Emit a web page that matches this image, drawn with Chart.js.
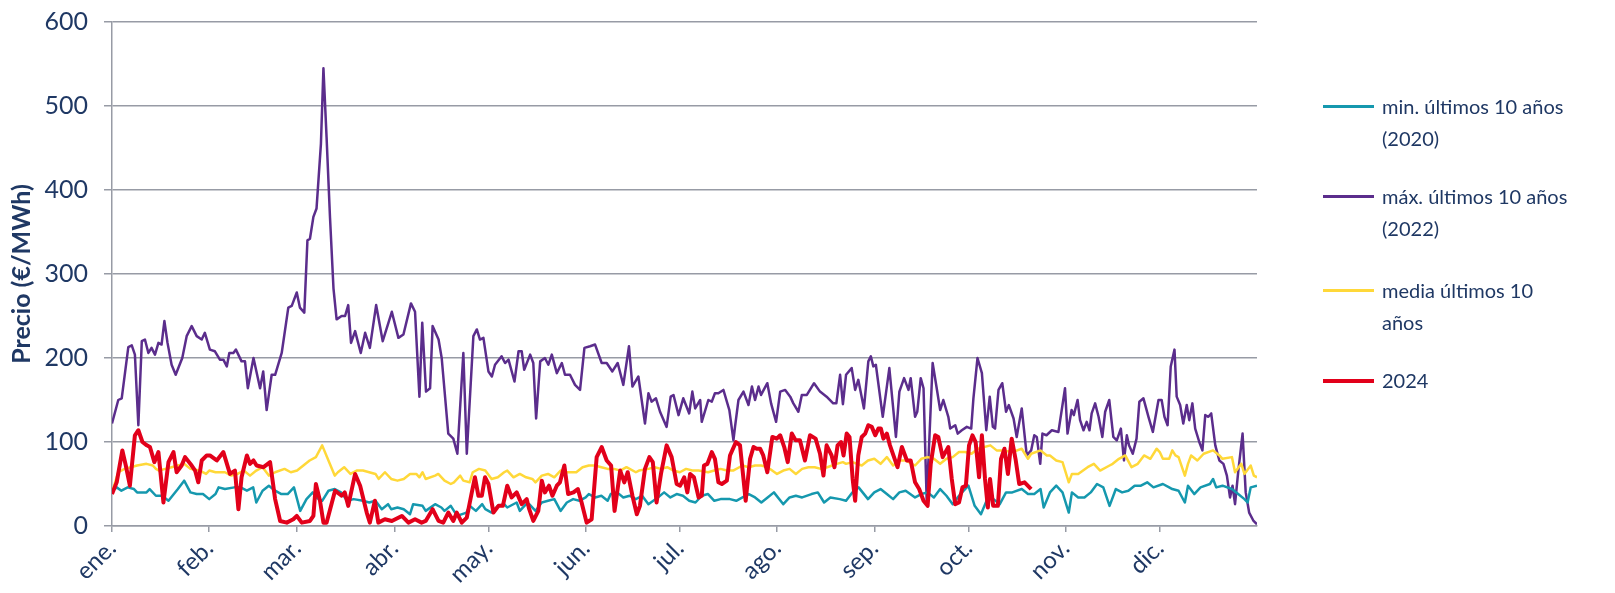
<!DOCTYPE html>
<html lang="es">
<head>
<meta charset="utf-8">
<script src="https://cdn.jsdelivr.net/npm/chart.js@4.4.1/dist/chart.umd.min.js"></script>
<style>
  html, body { margin: 0; padding: 0; background: #fff; }
  #wrap { position: relative; width: 1615px; height: 593px; }
  #chart { position: absolute; left: 0; top: 0; }
  .entry { position: absolute; left: 1323px; font-family: Lato, sans-serif; font-size: 20px; line-height: 32px; color: #1F3864; }
  .entry .swatch { position: absolute; left: 0; top: 15px; width: 51px; }
  .entry .label { margin-left: 59px; width: 200px; }
</style>
</head>
<body>
<div id="wrap">
  <canvas id="chart" width="1615" height="593"></canvas>
</div>
<script>
// eje x: día del año
const monthStarts = [0, 31, 59, 90, 120, 151, 181, 212, 243, 273, 304, 334];
const monthLabels = ['ene.', 'feb.', 'mar.', 'abr.', 'may.', 'jun.', 'jul.', 'ago.', 'sep.', 'oct.', 'nov.', 'dic.'];
const yTicks = [0, 100, 200, 300, 400, 500, 600];

const seriesNames = ['min. últimos 10 años (2020)', 'máx. últimos 10 años (2022)', 'media últimos 10 años', '2024'];

// [día, €/MWh]
const minSeries = [
  [0,42],[1.5,46],[3,42],[5,46],[7,44],[8,40],[11,40],[12,44],[14,36],[16,36],[18,30],[21,44],[23,54],[25,40],[27,38],[29,38],[31,32],
  [33,38],[34,46],[36,44],[39,46],[41,46],[43,42],[45,46],[46,28],[48,42],[50,48],[52,42],[54,38],[56,38],[58,46],[60,18],[62,32],[64,40],
  [65,34],[67,30],[69,42],[71,44],[73,40],[75,30],[77,32],[80,30],[82,28],[84,30],[86,20],[88,26],[89,20],[91,22],[93,20],[95,14],[96,26],[99,24],
  [100,18],[103,26],[105,22],[106,18],[108,24],[110,12],[113,16],[114,24],[116,18],[118,26],[119,20],[121,16],[123,24],[125,26],[126,22],[129,28],[130,18],[132,26],
  [133,26],[135,18],[137,28],[139,30],[141,32],[143,18],[145,28],[147,32],[149,30],[151,34],[152,38],[154,34],[156,36],[158,30],[159,38],[161,40],[163,34],[165,36],
  [167,32],[169,36],[171,26],[174,34],[176,40],[178,34],[180,38],[182,36],[184,30],[186,28],[188,36],[190,38],[192,30],[194,32],[197,32],[199,30],
  [201,34],[203,38],[205,34],[207,28],[209,34],[211,40],[214,26],[216,34],[218,36],[220,34],[223,38],[225,40],[227,28],[229,34],[232,32],
  [234,30],[236,40],[238,46],[241,32],[243,40],[245,44],[247,38],[249,32],[251,40],[253,42],[256,34],[258,38],[260,40],[262,34],[264,44],[266,36],
  [268,26],[270,36],[273,48],[275,24],[277,14],[279,32],[281,32],[283,26],[285,40],[287,40],[290,44],[292,38],[294,38],[296,44],[297,22],[299,40],
  [301,48],[303,40],[305,16],[306,40],[308,34],[310,34],[312,40],[314,50],[316,46],[318,24],[320,44],[322,40],[324,42],[326,48],[328,48],[330,52],[332,46],
  [335,50],[337,46],[338,44],[340,42],[342,28],[343,48],[345,38],[347,46],[350,50],[351,56],[352,46],[354,48],[357,44],[359,38],[361,32],[362,28],[363,46],[365,48]
];

const maxSeries = [
  [0,122],[2,150],[3.1,152],[5.2,213],[6.3,215],[7.3,204],[8.4,120],[9.5,220],[10.5,222],[11.6,206],[12.6,212],[13.7,204],[14.8,218],[15.8,216],[16.7,244],[17.7,218],[19,192],[20.3,180],[22.4,200],[23.8,226],[25.4,238],[27,226],[28.6,222],[29.6,230],
  [31.2,210],[32.8,208],[34.4,198],[35.5,198],[36.6,190],[37.4,206],[38.7,206],[39.5,210],[41.3,196],[42.4,196],[43.3,164],[45.1,200],[47.2,164],[48.2,184],[49.3,138],[50.9,180],[52,180],[54.1,206],[56.2,260],[57.3,262],[58.9,278],[59.9,260],[61.3,254],[62.3,340],[63.1,342],[64.2,368],[65.2,378],
  [66.6,455],[67.4,545],[68.4,463],[69.5,367],[70.6,283],[71.6,246],[73.2,250],[74.3,250],[75.3,263],[76.2,218],[77.5,232],[79.3,206],[80.7,230],[82.2,212],[84.2,263],[86.3,220],[89.2,255],[91.3,224],[92.9,228],[95.3,265],[96.6,255],[98,154],[98.9,242],
  [100.1,160],[101.4,164],[102.2,238],[104.1,222],[105.1,200],[107.2,110],[108.8,104],[110.1,86],[112,206],[113.1,86],[115.2,226],[116.3,234],[117.3,222],[118.4,224],[120,184],[121.1,178],[122.1,192],[124.2,202],[125.3,194],[126.4,198],[128.3,172],[129.6,208],[130.6,208],[131.4,186],
  [133.3,204],[134.3,194],[135.2,128],[136.5,196],[138,200],[139.1,192],[140.2,204],[141.8,182],[143.4,194],[144.4,180],[146,180],[147.6,168],[149.2,162],[150.6,212],[152.4,214],[154,216],[156.1,194],[157.7,194],[159.5,184],[161.2,194],[163,168],[164.8,214],[165.9,166],
  [167.8,178],[169.9,122],[171,158],[172,148],[173.4,152],[174.7,136],[176.8,118],[178.1,154],[179,156],[180.6,132],[182.1,152],[184,134],[185,160],[185.9,140],[187.5,150],[188,124],[190.1,150],[191.2,148],[192.2,158],[193.3,158],[194.9,162],[196.8,138],[198.1,102],[198.6,118],
  [199.7,150],[201.3,160],[202.9,144],[204,166],[205,150],[206.1,166],[206.9,156],[208.9,170],[210.1,146],[211.7,124],[213,160],[214.6,162],[216.2,154],[217.2,146],[218.8,136],[219.9,156],[221.5,156],[223.8,170],[225.7,160],[227.8,154],[229.9,146],[230.9,146],[232.1,180],
  [233,145],[234,180],[235.8,188],[236.9,162],[237.9,174],[239.7,140],[241.1,196],[241.9,202],[242.7,190],[243.5,192],[245.7,130],[247.8,188],[249.9,106],[251,160],[252.5,176],[253.9,162],[254.6,176],[256,130],[256.7,136],[257.8,176],[258.7,164],[259.7,30],[261.6,194],[262.9,164],[264,138],[265,150],
  [266.6,130],[267.2,116],[268.8,120],[269.6,110],[270.9,114],[272.5,118],[273.9,116],[274.6,152],[275.9,200],[277.3,182],[278.7,114],[279.8,154],[280.8,118],[281.5,116],[282.6,162],[283.8,170],[285,136],[285.9,144],[287.4,128],[288.4,106],[290,140],[291.6,84],[293,90],[294,108],[294.8,106],[295.9,74],[296.6,110],[297.9,108],[299.6,114],
  [301.7,112],[303.8,164],[304.6,110],[305.9,138],[306.6,132],[307.8,150],[308.6,126],[309.7,114],[310.7,124],[311.6,114],[312.3,134],[313.4,146],[314.5,130],[315.7,106],[316.6,136],[317.9,150],[319.2,106],[320.3,102],[321.6,116],[322.6,78],[323.5,108],[324.2,96],[325.4,86],[326.6,104],[327.5,148],[328.8,152],[330.4,130],[331.8,112],
  [333.6,150],[334.6,150],[335.5,130],[336.5,120],[337.5,190],[338.7,210],[339.4,154],[340.5,144],[341.5,122],[342.6,144],[343.4,126],[344.4,146],[345.3,116],[346.6,100],[347.6,90],[348.5,132],[349.5,130],[350.4,134],[351.7,96],[353,78],[354.3,74],[355.4,60],[356.4,34],[357.2,48],[358,26],[359,64],[360.4,110],[361.4,40],[362.5,16],[363.9,6],[365,2]
];

const avgSeries = [
  [0,40],[2,64],[4,68],[6,70],[8,72],[11,74],[13,72],[14,68],[15,66],[17,68],[19,70],[21,72],[23,74],[25,68],[28,66],[30,62],
  [31,66],[33,64],[36,64],[38,60],[40,62],[42,66],[44,60],[46,66],[48,70],[50,60],[52,64],[55,68],[57,64],[59,66],[61,72],[63,78],[65,82],
  [67,96],[69,78],[71,60],[72,64],[74,70],[76,62],[78,66],[80,66],[82,64],[84,62],[85,56],[87,64],[89,56],[91,54],[93,56],[95,62],[97,62],[98,58],
  [99,64],[100,56],[103,60],[104,62],[106,54],[108,50],[109,52],[111,60],[112,54],[114,52],[115,64],[117,68],[119,66],[121,56],[123,58],[125,64],[126,66],[128,58],[130,62],[132,58],
  [134,56],[135,52],[137,60],[139,62],[141,58],[143,66],[145,64],[148,64],[150,70],[152,72],[154,72],[156,70],[158,68],[160,68],[162,66],[164,70],
  [167,64],[168,66],[171,68],[173,70],[175,68],[177,70],[179,66],[181,64],[183,68],[185,66],[187,66],[190,64],[192,66],[194,68],[196,66],[198,66],
  [201,72],[203,70],[205,72],[207,72],[209,70],[212,62],[214,66],[216,68],[218,62],[220,68],[222,70],[224,70],[226,68],[228,70],[231,74],[233,76],
  [234,74],[236,76],[239,72],[241,78],[243,80],[245,74],[247,82],[249,72],[251,78],[253,78],[256,72],[258,80],[260,82],[262,80],[264,74],[266,80],
  [268,82],[270,88],[272,88],[274,86],[276,92],[280,96],[282,90],[284,90],[287,88],[290,92],[292,80],[293,86],[296,90],[298,84],
  [299,84],[301,78],[303,76],[305,52],[306,62],[308,62],[311,70],[313,74],[315,66],[318,72],[319,74],[321,80],[323,84],[325,70],[327,74],[329,84],[331,80],[333,92],
  [334,88],[335,80],[337,80],[338,90],[339,84],[340,82],[342,60],[343,74],[344,84],[346,78],[348,86],[351,90],[353,84],[354,80],[357,82],[358,64],[360,74],[361,62],[363,72],[364,60],[365,58]
];

const y2024Series = [
  [0,38],[1.5,52],[3.3,90],[4.4,72],[5.7,48],[7.3,108],[8.4,114],[9.7,100],[11.1,96],[12.1,94],[13.5,76],[14.8,88],[16.4,28],[18,76],[19.6,88],[20.6,64],[22.2,72],[23.3,82],[25.4,72],[26.5,66],[27.5,52],[28.6,78],[30.2,84],
  [31.2,84],[33.4,78],[35.5,88],[37.6,62],[39.2,66],[40.3,20],[41.3,58],[43,84],[44,74],[45.1,78],[46.1,72],[48.3,70],[50.4,76],[52,32],[53.6,6],[55.7,4],[57.8,8],[58.9,12],[60.5,4],[63.1,6],[64.2,12],[65,50],[66.3,30],
  [67.4,4],[68.4,4],[71.1,42],[73.2,36],[74.2,40],[75.3,24],[77.5,62],[79.1,48],[81.2,16],[82.2,4],[83.8,30],[84.9,4],[87,8],[89.2,6],[92.4,12],[94.5,4],[96.6,8],[98.7,4],
  [100,6],[102.2,20],[104.1,6],[105.6,4],[107.2,16],[108.8,6],[109.9,16],[111.5,4],[113.1,10],[114.7,40],[115.7,58],[116.8,36],[117.9,36],[118.9,58],[120,50],[121.6,16],[123.2,24],[124.6,24],[126,48],[127.4,34],[129,40],[130.6,26],[132.2,32],
  [133,20],[134.3,6],[135.9,18],[137,54],[138,40],[139.3,48],[140.4,36],[141.8,48],[142.8,52],[144.2,72],[145.4,38],[147.1,40],[148.5,44],[149.7,28],[151.3,4],[152.9,8],[154.5,82],[156.1,94],[157.7,78],[159.1,72],[160.2,18],[162,66],[163.3,52],[164.4,64],[165.9,36],
  [167.3,14],[168.3,24],[169.9,68],[171.3,82],[172.4,76],[173.6,28],[175,62],[176.8,96],[178.4,82],[180,50],[181.1,48],[182.4,58],[183.4,40],[184.3,62],[185.5,58],[187,34],[188,36],[188.7,72],[189.8,74],[191.2,88],[192.2,80],[193.3,52],[194.4,50],[196,54],[197,84],[198.9,100],
  [200.2,96],[201.3,56],[202,30],[203.4,80],[204.5,94],[205.5,92],[206.6,92],[207.6,84],[208.9,64],[210.5,106],[211.9,104],[213,108],[214.3,94],[215.4,76],[216.7,110],[217.9,102],[219.3,102],[220.9,78],[222.5,108],[224.3,104],[225.7,86],[226.8,60],[227.8,96],[229.4,84],[230.3,70],[231.3,96],[232.4,100],
  [233.2,84],[234.2,110],[235.1,106],[236.1,56],[236.9,30],[237.9,84],[239,106],[240.1,110],[241.1,120],[242.2,118],[243.3,108],[244.3,116],[245.1,116],[245.9,104],[247,110],[248,96],[249.1,84],[250.4,70],[251.8,94],[253.4,78],[254.6,78],[256,52],[257.3,44],[258.7,30],[260,24],[261,74],[262.4,108],[263.4,106],[264.8,82],
  [266.6,94],[267.7,56],[268.8,26],[270,28],[271.1,46],[272.2,48],[273.2,96],[274.3,108],[275.3,100],[276.4,58],[277.3,108],[278.3,56],[279.2,22],[279.9,56],[280.9,24],[282.4,24],[283.4,80],[284.5,92],[285.6,62],[286.8,104],[288.1,78],[289.2,50],[290.9,52],[293,44]
];

const colors = ['#1598AE', '#5B2D8C', '#FFD839', '#E2001A'];
const widths = [2.5, 2.5, 2.5, 4];

const navy = '#1F3864';
const gridGrey = '#979BA5';

function toPoints(pairs) {
    return pairs.map(([d, v]) => ({ x: d, y: v }));
}

function buildLegend() {
    const wrap = document.getElementById('wrap');
    const tops = [90, 180, 274, 364];
    const lines = [
        ['min. últimos 10 años', '(2020)'],
        ['máx. últimos 10 años', '(2022)'],
        ['media últimos 10', 'años'],
        ['2024'],
    ];
    lines.forEach((txt, i) => {
        const el = document.createElement('div');
        el.className = 'entry';
        el.style.top = tops[i] + 'px';
        const sw = document.createElement('div');
        sw.className = 'swatch';
        sw.style.background = colors[i];
        sw.style.height = Math.max(3, widths[i]) + 'px';
        const lab = document.createElement('div');
        lab.className = 'label';
        lab.innerHTML = txt.join('<br>');
        el.appendChild(sw);
        el.appendChild(lab);
        wrap.appendChild(el);
    });
}

Chart.defaults.font.family = 'Lato, sans-serif';
Chart.defaults.color = navy;

const ctx = document.getElementById('chart').getContext('2d');
const sources = [minSeries, maxSeries, avgSeries, y2024Series];
const drawOrder = [2, 3, 1, 0];

new Chart(ctx, {
    type: 'line',
    data: {
        datasets: sources.map((s, i) => ({
            label: seriesNames[i],
            data: toPoints(s),
            borderColor: colors[i],
            backgroundColor: colors[i],
            borderWidth: widths[i],
            pointRadius: 0,
            tension: 0,
            fill: false,
            order: drawOrder[i],
            borderJoinStyle: 'round',
        })),
    },
    options: {
        responsive: false,
        animation: false,
        devicePixelRatio: 1,
        layout: { padding: { left: 0, top: 22, right: 358, bottom: 0 } },
        plugins: {
            legend: { display: false },
            tooltip: { enabled: false },
        },
        scales: {
            x: {
                type: 'linear',
                min: 0,
                max: 365,
                offset: false,
                afterBuildTicks: (scale) => {
                    scale.ticks = monthStarts.map((v) => ({ value: v }));
                },
                afterFit: (scale) => {
                    scale.height = 67;
                },
                ticks: {
                    autoSkip: false,
                    maxRotation: 45,
                    minRotation: 45,
                    color: navy,
                    font: { size: 24 },
                    padding: 2,
                    callback: (v) => monthLabels[monthStarts.indexOf(v)] ?? '',
                },
                grid: { drawOnChartArea: false, color: gridGrey, tickLength: 6, lineWidth: 1.5 },
                border: { color: gridGrey, width: 1.5 },
            },
            y: {
                min: 0,
                max: 600,
                afterBuildTicks: (scale) => {
                    scale.ticks = yTicks.map((v) => ({ value: v }));
                },
                afterFit: (scale) => {
                    scale.width = 112;
                    scale.paddingTop = 0;
                    scale.paddingBottom = 0;
                },
                ticks: {
                    color: navy,
                    font: { size: 25 },
                    padding: 16,
                },
                grid: { color: gridGrey, lineWidth: 1.5, tickLength: 8 },
                border: { color: gridGrey, width: 1.5 },
                title: {
                    display: true,
                    text: 'Precio (€/MWh)',
                    color: navy,
                    font: { size: 25, weight: 'bold' },
                    padding: { top: 7, bottom: 0 },
                },
            },
        },
    },
});

buildLegend();
</script>
</body>
</html>
